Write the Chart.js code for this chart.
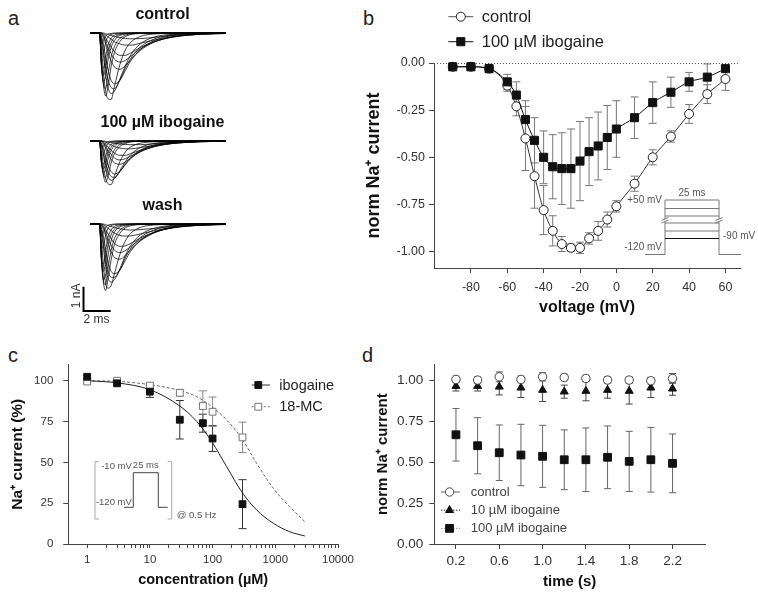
<!DOCTYPE html>
<html>
<head>
<meta charset="utf-8">
<title>Ibogaine and Na+ current</title>
<script src="https://cdn.jsdelivr.net/npm/chart.js@4.4.1/dist/chart.umd.min.js"></script>
<style>
  body { margin: 0; background: #fff; }
  #page { position: relative; width: 758px; height: 593px; overflow: hidden; font-family: "Liberation Sans", Arial, sans-serif; }
  #page canvas { position: absolute; }
  .panel { position: absolute; font-size: 20px; line-height: 20px; color: #222; }
</style>
</head>
<body>
<div id="page">
  <div class="panel" style="left:8px;top:8px">a</div>
  <div class="panel" style="left:363px;top:8px">b</div>
  <div class="panel" style="left:8px;top:345px">c</div>
  <div class="panel" style="left:362px;top:345px">d</div>
  <canvas id="traceControl" width="165" height="102" style="left:80px;top:0px"></canvas>
  <canvas id="traceIbogaine" width="165" height="102" style="left:80px;top:108px"></canvas>
  <canvas id="traceWash" width="180" height="139" style="left:65px;top:191px"></canvas>
  <canvas id="ivChart" width="398" height="320" style="left:360px;top:0px"></canvas>
  <canvas id="doseChart" width="380" height="273" style="left:0px;top:320px"></canvas>
  <canvas id="timeChart" width="388" height="273" style="left:370px;top:320px"></canvas>
</div>
<script>
// ---- panel a: Na+ current traces (nA), sampled at these times (ms) ----
const traceTimes = [0, 0.7, 0.85, 1.0, 1.15, 1.3, 1.55, 1.8, 2.2, 2.6, 3.0, 3.7, 4.7, 6.1, 8.1, 10];
const controlTraces = [
  [0, 0, -0.45, -0.3, -0.12, -0.05, -0.02, 0, 0, 0, 0, 0, 0, 0, 0, 0],
  [0, 0, -0.9, -0.8, -0.4, -0.18, -0.06, -0.02, 0, 0, 0, 0, 0, 0, 0, 0],
  [0, 0, -1.3, -1.45, -1.0, -0.55, -0.22, -0.09, -0.03, 0, 0, 0, 0, 0, 0, 0],
  [0, 0, -1.4, -1.75, -1.4, -0.85, -0.4, -0.18, -0.06, -0.02, 0, 0, 0, 0, 0, 0],
  [0, 0, -1.45, -2.0, -1.8, -1.2, -0.6, -0.3, -0.1, -0.04, -0.01, 0, 0, 0, 0, 0],
  [0, 0, -1.35, -2.15, -2.3, -1.8, -1.0, -0.55, -0.22, -0.09, -0.03, 0, 0, 0, 0, 0],
  [0, 0, -1.2, -2.2, -2.6, -2.3, -1.4, -0.8, -0.35, -0.15, -0.06, -0.02, 0, 0, 0, 0],
  [0, 0, -0.7, -1.7, -2.4, -2.7, -2.75, -2.2, -1.3, -0.7, -0.38, -0.14, -0.04, -0.01, 0, 0],
  [0, 0, -0.35, -1.0, -1.7, -2.2, -2.5, -2.4, -1.9, -1.35, -0.9, -0.45, -0.17, -0.05, -0.01, 0],
  [0, 0, -0.25, -0.75, -1.35, -1.85, -2.25, -2.3, -1.95, -1.45, -1.05, -0.58, -0.25, -0.07, -0.01, 0],
  [0, 0, -0.15, -0.5, -1.0, -1.45, -1.95, -2.1, -1.95, -1.55, -1.15, -0.68, -0.32, -0.1, -0.02, 0],
  [0, 0, -0.05, -0.2, -0.45, -0.75, -1.15, -1.4, -1.5, -1.35, -1.1, -0.72, -0.38, -0.15, -0.04, -0.01],
  [0, 0, -0.02, -0.13, -0.32, -0.55, -0.85, -1.08, -1.2, -1.13, -0.96, -0.66, -0.37, -0.16, -0.05, -0.01],
  [0, 0, 0, -0.08, -0.2, -0.35, -0.58, -0.78, -0.92, -0.92, -0.82, -0.6, -0.36, -0.17, -0.05, -0.02],
  [0, 0, 0, -0.03, -0.08, -0.15, -0.25, -0.36, -0.45, -0.5, -0.5, -0.42, -0.29, -0.15, -0.05, -0.02],
  [0, 0, 0, 0, -0.03, -0.06, -0.1, -0.14, -0.19, -0.22, -0.24, -0.23, -0.18, -0.1, -0.04, -0.01]
];
const ibogaineTraces = [
  [0, 0, -0.3, -0.2, -0.08, -0.03, -0.01, 0, 0, 0, 0, 0, 0, 0, 0, 0],
  [0, 0, -0.6, -0.55, -0.28, -0.12, -0.04, -0.01, 0, 0, 0, 0, 0, 0, 0, 0],
  [0, 0, -0.85, -0.95, -0.65, -0.36, -0.14, -0.06, -0.02, 0, 0, 0, 0, 0, 0, 0],
  [0, 0, -0.92, -1.15, -0.92, -0.55, -0.26, -0.12, -0.04, -0.01, 0, 0, 0, 0, 0, 0],
  [0, 0, -0.95, -1.3, -1.2, -0.8, -0.4, -0.2, -0.07, -0.03, -0.01, 0, 0, 0, 0, 0],
  [0, 0, -0.9, -1.4, -1.5, -1.17, -0.65, -0.36, -0.14, -0.06, -0.02, 0, 0, 0, 0, 0],
  [0, 0, -0.8, -1.45, -1.7, -1.5, -0.92, -0.52, -0.23, -0.1, -0.04, -0.01, 0, 0, 0, 0],
  [0, 0, -0.45, -1.1, -1.55, -1.75, -1.8, -1.45, -0.85, -0.45, -0.24, -0.09, -0.03, 0, 0, 0],
  [0, 0, -0.22, -0.65, -1.1, -1.42, -1.62, -1.56, -1.22, -0.85, -0.56, -0.27, -0.1, -0.03, 0, 0],
  [0, 0, -0.16, -0.49, -0.88, -1.2, -1.46, -1.5, -1.27, -0.94, -0.68, -0.38, -0.16, -0.05, -0.01, 0],
  [0, 0, -0.1, -0.32, -0.65, -0.95, -1.26, -1.36, -1.25, -0.98, -0.72, -0.42, -0.19, -0.06, -0.01, 0],
  [0, 0, -0.03, -0.13, -0.3, -0.5, -0.75, -0.9, -0.96, -0.86, -0.7, -0.45, -0.23, -0.09, -0.02, 0],
  [0, 0, -0.01, -0.08, -0.21, -0.36, -0.55, -0.7, -0.78, -0.73, -0.62, -0.43, -0.24, -0.1, -0.03, -0.01],
  [0, 0, 0, -0.05, -0.13, -0.23, -0.38, -0.5, -0.59, -0.59, -0.52, -0.38, -0.22, -0.1, -0.03, -0.01],
  [0, 0, 0, -0.02, -0.05, -0.1, -0.16, -0.23, -0.29, -0.32, -0.32, -0.27, -0.18, -0.09, -0.03, -0.01],
  [0, 0, 0, 0, -0.02, -0.04, -0.06, -0.09, -0.12, -0.14, -0.15, -0.15, -0.11, -0.06, -0.02, -0.01]
];
const washTraces = [
  [0, 0, -0.5, -0.32, -0.13, -0.05, -0.02, 0, 0, 0, 0, 0, 0, 0, 0, 0],
  [0, 0, -1.0, -0.9, -0.45, -0.2, -0.07, -0.02, 0, 0, 0, 0, 0, 0, 0, 0],
  [0, 0, -1.45, -1.65, -1.1, -0.6, -0.25, -0.1, -0.03, 0, 0, 0, 0, 0, 0, 0],
  [0, 0, -1.55, -1.95, -1.55, -0.95, -0.45, -0.2, -0.07, -0.02, 0, 0, 0, 0, 0, 0],
  [0, 0, -1.6, -2.3, -2.1, -1.4, -0.7, -0.33, -0.12, -0.05, -0.01, 0, 0, 0, 0, 0],
  [0, 0, -1.45, -2.4, -2.5, -1.9, -1.1, -0.6, -0.25, -0.1, -0.03, 0, 0, 0, 0, 0],
  [0, 0, -1.3, -2.45, -2.75, -2.35, -1.5, -0.85, -0.38, -0.16, -0.07, -0.02, 0, 0, 0, 0],
  [0, 0, -0.75, -1.8, -2.45, -2.65, -2.55, -2.05, -1.25, -0.7, -0.38, -0.14, -0.04, -0.01, 0, 0],
  [0, 0, -0.38, -1.05, -1.75, -2.2, -2.4, -2.3, -1.85, -1.3, -0.88, -0.45, -0.18, -0.05, -0.01, 0],
  [0, 0, -0.27, -0.8, -1.4, -1.85, -2.2, -2.2, -1.9, -1.4, -1.0, -0.56, -0.25, -0.07, -0.01, 0],
  [0, 0, -0.16, -0.55, -1.05, -1.5, -1.95, -2.05, -1.9, -1.5, -1.12, -0.68, -0.34, -0.11, -0.02, 0],
  [0, 0, -0.06, -0.22, -0.48, -0.78, -1.15, -1.38, -1.45, -1.3, -1.05, -0.7, -0.37, -0.14, -0.04, -0.01],
  [0, 0, -0.03, -0.15, -0.34, -0.57, -0.87, -1.08, -1.18, -1.1, -0.93, -0.64, -0.36, -0.15, -0.05, -0.01],
  [0, 0, 0, -0.09, -0.22, -0.37, -0.6, -0.8, -0.92, -0.9, -0.8, -0.58, -0.34, -0.16, -0.05, -0.02],
  [0, 0, 0, -0.03, -0.09, -0.16, -0.27, -0.38, -0.47, -0.5, -0.49, -0.41, -0.28, -0.14, -0.05, -0.02],
  [0, 0, 0, 0, -0.03, -0.06, -0.1, -0.15, -0.2, -0.23, -0.25, -0.23, -0.18, -0.1, -0.04, -0.01]
];
const scaleBarMs = 2;
const scaleBarNA = 1;

// ---- panel b: current-voltage relation ----
const voltageB = [-90, -80, -70, -60, -55, -50, -45, -40, -35, -30, -25, -20, -15, -10, -5, 0, 10, 20, 30, 40, 50, 60];
const controlB = [-0.02, -0.02, -0.03, -0.12, -0.23, -0.40, -0.60, -0.78, -0.89, -0.96, -0.98, -0.98, -0.93, -0.89, -0.83, -0.76, -0.64, -0.50, -0.39, -0.27, -0.165, -0.085];
const controlBErr = [0.01, 0.01, 0.01, 0.03, 0.05, 0.17, 0.17, 0.13, 0.08, 0.04, 0.02, 0.03, 0.03, 0.05, 0.04, 0.03, 0.04, 0.04, 0.03, 0.05, 0.05, 0.06];
const ibogaineB = [-0.02, -0.02, -0.03, -0.10, -0.17, -0.30, -0.41, -0.50, -0.55, -0.56, -0.56, -0.52, -0.47, -0.44, -0.395, -0.35, -0.29, -0.21, -0.155, -0.10, -0.075, -0.03];
const ibogaineBErr = [0.01, 0.01, 0.02, 0.04, 0.07, 0.10, 0.12, 0.14, 0.17, 0.19, 0.21, 0.21, 0.18, 0.18, 0.17, 0.15, 0.11, 0.11, 0.08, 0.05, 0.07, 0.01];
const voltageTicksB = [-80, -60, -40, -20, 0, 20, 40, 60];
const currentTicksB = [0, -0.25, -0.5, -0.75, -1];

// ---- panel c: concentration-response ----
const concC = [1, 3, 10, 30, 70, 100, 300];
const ibogaineC = [102.4, 98.4, 93.3, 76.1, 74, 64.6, 24.4];
const ibogaineCErr = [1, 1, 3.5, 11.8, 5.5, 7.9, 15];
const mcC = [99.5, 100, 97, 92.6, 84.5, 81, 65.3];
const mcCErr = [1, 1, 1.5, 2, 9.3, 9, 9.3];
const fitConcC = [1, 3, 10, 30, 56, 97, 168, 291, 505, 930, 1700, 2960];
const ibogaineFitC = [100, 98.7, 94.5, 84.5, 75, 62.7, 47.3, 32, 20.8, 12.7, 7.5, 4.9];
const mcFitC = [100, 99.6, 97.6, 94, 90.2, 84.1, 75.9, 64.7, 49.4, 34.1, 22.8, 13.7];
const concTicksC = [1, 10, 100, 1000, 10000];
const percentTicksC = [0, 25, 50, 75, 100];

// ---- panel d: current during the pulse train ----
const timeD = [0.2, 0.4, 0.6, 0.8, 1.0, 1.2, 1.4, 1.6, 1.8, 2.0, 2.2];
const controlD = [1.008, 1.004, 1.024, 1.008, 1.024, 1.02, 1.014, 1.004, 1.004, 1.0, 1.014];
const controlDErr = [0.02, 0.02, 0.03, 0.02, 0.025, 0.02, 0.02, 0.02, 0.02, 0.02, 0.03];
const ibo10D = [0.967, 0.967, 0.963, 0.957, 0.943, 0.933, 0.937, 0.943, 0.937, 0.957, 0.951];
const ibo10DErr = [0.03, 0.03, 0.05, 0.06, 0.07, 0.04, 0.06, 0.05, 0.08, 0.06, 0.04];
const ibo100D = [0.669, 0.602, 0.559, 0.545, 0.537, 0.516, 0.516, 0.531, 0.506, 0.516, 0.494];
const ibo100DErr = [0.161, 0.172, 0.17, 0.188, 0.19, 0.183, 0.195, 0.192, 0.184, 0.198, 0.18];
const timeTicksD = [0.2, 0.6, 1.0, 1.4, 1.8, 2.2];
const currentTicksD = [0, 0.25, 0.5, 0.75, 1];

const FONT = '"Liberation Sans", Arial, sans-serif';
const AXIS = '#444';
Chart.defaults.font.family = FONT;
Chart.defaults.color = '#333';

const pts = (xs, ys) => xs.map((x, i) => ({x: x, y: ys[i]}));
const font = (size, weight) => ({family: FONT, size: size, weight: weight || 'normal'});
const axisGrid = {display: true, drawOnChartArea: false, drawTicks: true, tickLength: 5, color: AXIS};
const axisBorder = {display: true, color: AXIS, width: 1};

function drawMarker(ctx, style, x, y, r, fill, stroke) {
    ctx.beginPath();
    if (style === 'rect') {
        const s = Math.SQRT1_2 * r;
        ctx.rect(x - s, y - s, 2 * s, 2 * s);
    } else if (style === 'triangle') {
        for (let k = 0; k < 3; k++) {
            const a = k * 2 * Math.PI / 3;
            const px = x + Math.sin(a) * r, py = y - Math.cos(a) * r;
            if (k === 0) ctx.moveTo(px, py); else ctx.lineTo(px, py);
        }
        ctx.closePath();
    } else {
        ctx.arc(x, y, r, 0, 2 * Math.PI);
    }
    ctx.fillStyle = fill;
    ctx.fill();
    ctx.strokeStyle = stroke;
    ctx.lineWidth = 1;
    ctx.stroke();
}

// vertical error bars taken from dataset.errors
const errorBarPlugin = {
    id: 'errorBars',
    beforeDatasetsDraw(chart) {
        const ctx = chart.ctx;
        const yScale = chart.scales.y;
        chart.data.datasets.forEach((ds, i) => {
            if (!ds.errors) return;
            const meta = chart.getDatasetMeta(i);
            const cap = ds.errorCap || 4;
            ctx.save();
            ctx.strokeStyle = ds.errorColor || '#666';
            ctx.lineWidth = 1;
            meta.data.forEach((pt, j) => {
                const v = ds.data[j].y, e = ds.errors[j];
                const top = yScale.getPixelForValue(v + e);
                const bot = yScale.getPixelForValue(v - e);
                ctx.beginPath();
                ctx.moveTo(pt.x, top);
                ctx.lineTo(pt.x, bot);
                ctx.moveTo(pt.x - cap, top);
                ctx.lineTo(pt.x + cap, top);
                ctx.moveTo(pt.x - cap, bot);
                ctx.lineTo(pt.x + cap, bot);
                ctx.stroke();
            });
            ctx.restore();
        });
    }
};

// hand placed key with a line through each marker
const keyPlugin = {
    id: 'key',
    afterDraw(chart, args, opts) {
        if (!opts.items) return;
        const ctx = chart.ctx;
        opts.items.forEach((it, k) => {
            const ds = chart.data.datasets[it.ds];
            const y = opts.y + k * opts.rowGap;
            ctx.save();
            ctx.strokeStyle = it.line;
            ctx.lineWidth = 1;
            ctx.setLineDash(it.dash || []);
            ctx.beginPath();
            ctx.moveTo(opts.x, y);
            ctx.lineTo(opts.x + opts.lineLen, y);
            ctx.stroke();
            ctx.setLineDash([]);
            drawMarker(ctx, ds.pointStyle, opts.x + opts.lineLen * opts.markerAt, y, ds.pointRadius,
                ds.pointBackgroundColor, ds.pointBorderColor);
            ctx.fillStyle = opts.color;
            ctx.font = opts.fontSize + 'px ' + FONT;
            ctx.textAlign = 'left';
            ctx.textBaseline = 'middle';
            ctx.fillText(ds.label, opts.x + opts.lineLen + opts.gap, y + 0.5);
            ctx.restore();
        });
    }
};

const zeroLinePlugin = {
    id: 'zeroLine',
    beforeDatasetsDraw(chart) {
        const {ctx, chartArea} = chart;
        const y = Math.round(chart.scales.y.getPixelForValue(0)) + 0.5;
        ctx.save();
        ctx.strokeStyle = '#555';
        ctx.lineWidth = 1;
        ctx.setLineDash([1, 2]);
        ctx.beginPath();
        ctx.moveTo(chartArea.left, y);
        ctx.lineTo(chartArea.right, y);
        ctx.stroke();
        ctx.restore();
    }
};

function smallText(ctx, text, x, y, align) {
    ctx.textAlign = align;
    ctx.fillText(text, x, y);
}

// voltage step protocol drawn inside panel b
const ivInsetPlugin = {
    id: 'ivInset',
    afterDraw(chart) {
        const {ctx, chartArea} = chart;
        const base = chartArea.bottom - 13.5;
        const top = chartArea.bottom - 68;
        const x1 = chartArea.right - 75;
        const x2 = chartArea.right - 21;
        const steps = [59.5, 52, 45, 37, 29.5];
        ctx.save();
        ctx.lineWidth = 1;
        ctx.strokeStyle = '#777';
        ctx.beginPath();
        ctx.moveTo(x1 - 20, base);
        ctx.lineTo(x1, base);
        ctx.lineTo(x1, top);
        ctx.lineTo(x2, top);
        ctx.lineTo(x2, base);
        ctx.lineTo(x2 + 22, base);
        steps.slice(0, 4).forEach(s => {
            ctx.moveTo(x1, chartArea.bottom - s);
            ctx.lineTo(x2, chartArea.bottom - s);
        });
        ctx.stroke();
        ctx.strokeStyle = '#111';
        ctx.beginPath();
        ctx.moveTo(x1, chartArea.bottom - steps[4]);
        ctx.lineTo(x2, chartArea.bottom - steps[4]);
        ctx.stroke();
        // breaks on the verticals
        const yb = chartArea.bottom - 48;
        [x1, x2].forEach(x => {
            ctx.fillStyle = '#fff';
            ctx.fillRect(x - 1, yb - 1, 3, 3);
            ctx.strokeStyle = '#777';
            ctx.beginPath();
            ctx.moveTo(x - 3.5, yb + 0.5);
            ctx.lineTo(x + 3.5, yb - 2.5);
            ctx.moveTo(x - 3.5, yb + 3);
            ctx.lineTo(x + 3.5, yb);
            ctx.stroke();
        });
        ctx.fillStyle = '#555';
        ctx.font = '10px ' + FONT;
        ctx.textBaseline = 'middle';
        smallText(ctx, '+50 mV', x1 - 3, top, 'right');
        smallText(ctx, '25 ms', (x1 + x2) / 2, top - 7, 'center');
        smallText(ctx, '-90 mV', x2 + 4, chartArea.bottom - 32, 'left');
        smallText(ctx, '-120 mV', x1 - 3, base - 7, 'right');
        ctx.restore();
    }
};

// single pulse protocol drawn inside panel c
const doseInsetPlugin = {
    id: 'doseInset',
    afterDraw(chart) {
        const {ctx, chartArea} = chart;
        const L = chartArea.left, T = chartArea.top;
        const bl = L + 26.7, br = L + 103.4, bt = T + 97.3, bb = T + 154.6;
        const base = T + 142.9, high = T + 108.3;
        const p0 = L + 55.7, p1 = L + 65, p2 = L + 90, p3 = L + 99.4;
        ctx.save();
        ctx.lineWidth = 1;
        ctx.strokeStyle = '#aaa';
        ctx.beginPath();
        ctx.moveTo(bl + 4, bt); ctx.lineTo(bl, bt); ctx.lineTo(bl, bb); ctx.lineTo(bl + 4, bb);
        ctx.moveTo(br - 4, bt); ctx.lineTo(br, bt); ctx.lineTo(br, bb); ctx.lineTo(br - 4, bb);
        ctx.stroke();
        ctx.strokeStyle = '#444';
        ctx.beginPath();
        ctx.moveTo(p0, base); ctx.lineTo(p1, base); ctx.lineTo(p1, high);
        ctx.lineTo(p2, high); ctx.lineTo(p2, base); ctx.lineTo(p3, base);
        ctx.stroke();
        ctx.fillStyle = '#555';
        ctx.font = '9.5px ' + FONT;
        ctx.textBaseline = 'middle';
        smallText(ctx, '-10 mV', p1 - 1.5, high - 6.5, 'right');
        smallText(ctx, '25 ms', (p1 + p2) / 2, high - 7, 'center');
        smallText(ctx, '-120 mV', p1 - 1.5, base - 4.5, 'right');
        smallText(ctx, '@ 0.5 Hz', br + 5, bb - 4, 'left');
        ctx.restore();
    }
};

// 2 ms / 1 nA calibration bar under the wash traces
const scaleBarPlugin = {
    id: 'scaleBar',
    afterDraw(chart) {
        const {ctx, chartArea} = chart;
        const xs = chart.scales.x, ys = chart.scales.y;
        const w = xs.getPixelForValue(scaleBarMs) - xs.getPixelForValue(0);
        const h = ys.getPixelForValue(-scaleBarNA) - ys.getPixelForValue(0);
        const x0 = chartArea.left + 3.5, y0 = chartArea.bottom + 18;
        ctx.save();
        ctx.strokeStyle = '#000';
        ctx.lineWidth = 2;
        ctx.beginPath();
        ctx.moveTo(x0, y0 - h);
        ctx.lineTo(x0, y0);
        ctx.lineTo(x0 + w, y0);
        ctx.stroke();
        ctx.fillStyle = '#333';
        ctx.font = '12px ' + FONT;
        ctx.textAlign = 'left';
        ctx.textBaseline = 'top';
        ctx.fillText(scaleBarMs + ' ms', x0, y0 + 3);
        ctx.translate(x0 - 4, y0 - h / 2 - 3);
        ctx.rotate(-Math.PI / 2);
        ctx.textAlign = 'center';
        ctx.textBaseline = 'alphabetic';
        ctx.fillText(scaleBarNA + ' nA', 0, 0);
        ctx.restore();
    }
};

function traceChart(id, title, traces, padding, plugins) {
    return new Chart(document.getElementById(id), {
        type: 'scatter',
        data: {
            datasets: traces.map(tr => ({
                data: pts(traceTimes, tr),
                showLine: true,
                borderColor: '#000',
                borderWidth: 0.75,
                pointRadius: 0,
                cubicInterpolationMode: 'monotone'
            }))
        },
        options: {
            responsive: false,
            animation: false,
            layout: {padding: padding},
            scales: {
                x: {type: 'linear', display: false, min: -0.735, max: 11.4},
                y: {display: false, min: -2.85, max: 0.2}
            },
            plugins: {
                legend: {display: false},
                tooltip: {enabled: false},
                title: {display: true, text: title, color: '#111', font: font(16, 'bold'), padding: {top: 5, bottom: 4}}
            }
        },
        plugins: plugins
    });
}

traceChart('traceControl', 'control', controlTraces, 0, []);
traceChart('traceIbogaine', '100 µM ibogaine', ibogaineTraces, 0, []);
traceChart('traceWash', 'wash', washTraces, {left: 15, bottom: 37}, [scaleBarPlugin]);

// panel b
new Chart(document.getElementById('ivChart'), {
    type: 'scatter',
    data: {
        datasets: [{
            label: '100 µM ibogaine',
            data: pts(voltageB, ibogaineB),
            errors: ibogaineBErr,
            errorColor: '#777',
            order: 0,
            showLine: true,
            borderColor: '#111',
            borderWidth: 1,
            cubicInterpolationMode: 'monotone',
            pointStyle: 'rect',
            pointRadius: 5.7,
            pointBackgroundColor: '#111',
            pointBorderColor: '#111',
            clip: false
        }, {
            label: 'control',
            data: pts(voltageB, controlB),
            errors: controlBErr,
            errorColor: '#777',
            order: 1,
            showLine: true,
            borderColor: '#333',
            borderWidth: 1,
            cubicInterpolationMode: 'monotone',
            pointStyle: 'circle',
            pointRadius: 4.5,
            pointBackgroundColor: '#fff',
            pointBorderColor: '#222',
            clip: false
        }]
    },
    options: {
        responsive: false,
        animation: false,
        layout: {padding: {left: 0, right: 18, top: 63, bottom: 0}},
        scales: {
            x: {
                type: 'linear', min: -100.3, max: 68,
                afterFit: s => { s.height = 52; },
                afterBuildTicks: s => { s.ticks = voltageTicksB.map(v => ({value: v})); },
                ticks: {font: font(12.5), color: '#333', padding: 7, callback: v => String(v)},
                grid: axisGrid, border: axisBorder,
                title: {display: true, text: 'voltage (mV)', color: '#111', font: font(16, 'bold'), padding: {top: 0, bottom: 2.4}}
            },
            y: {
                min: -1.087, max: 0,
                afterFit: s => { s.width = 74; },
                afterBuildTicks: s => { s.ticks = currentTicksB.map(v => ({value: v})); },
                ticks: {font: font(12.5), color: '#333', padding: 4, callback: v => v.toFixed(2)},
                grid: axisGrid, border: axisBorder,
                title: {display: true, text: 'norm Na⁺ current', color: '#111', font: font(18, 'bold'), padding: {top: 3.2, bottom: 0}}
            }
        },
        plugins: {
            legend: {display: false},
            tooltip: {enabled: false},
            key: {x: 88.3, y: 16.7, rowGap: 25, lineLen: 25, markerAt: 0.5, gap: 8.4, fontSize: 16.5, color: '#222',
                items: [{ds: 1, line: '#555'}, {ds: 0, line: '#111'}]}
        }
    },
    plugins: [zeroLinePlugin, errorBarPlugin, keyPlugin, ivInsetPlugin]
});

// panel c
const minorTicksC = [];
concTicksC.slice(0, -1).forEach(d => { for (let m = 1; m < 10; m++) minorTicksC.push(m * d); });
minorTicksC.push(concTicksC[concTicksC.length - 1]);

new Chart(document.getElementById('doseChart'), {
    type: 'scatter',
    data: {
        datasets: [{
            label: 'ibogaine',
            data: pts(concC, ibogaineC),
            errors: ibogaineCErr,
            errorColor: '#333',
            pointStyle: 'rect',
            pointRadius: 4.8,
            pointBackgroundColor: '#111',
            pointBorderColor: '#111',
            clip: false
        }, {
            label: '18-MC',
            data: pts(concC, mcC),
            errors: mcCErr,
            errorColor: '#888',
            pointStyle: 'rect',
            pointRadius: 4.8,
            pointBackgroundColor: '#fff',
            pointBorderColor: '#777',
            clip: false
        }, {
            label: 'ibogaine fit',
            data: pts(fitConcC, ibogaineFitC),
            showLine: true,
            borderColor: '#222',
            borderWidth: 1,
            pointRadius: 0,
            cubicInterpolationMode: 'monotone'
        }, {
            label: '18-MC fit',
            data: pts(fitConcC, mcFitC),
            showLine: true,
            borderColor: '#666',
            borderWidth: 1,
            borderDash: [3, 2],
            pointRadius: 0,
            cubicInterpolationMode: 'monotone'
        }]
    },
    options: {
        responsive: false,
        animation: false,
        layout: {padding: {left: 0, right: 42, top: 44.4, bottom: 0}},
        scales: {
            x: {
                type: 'logarithmic', min: 0.5, max: 10000,
                afterFit: s => { s.height = 49; },
                afterBuildTicks: s => { s.ticks = minorTicksC.map(v => ({value: v})); },
                ticks: {font: font(11.5), color: '#333', padding: 5, autoSkip: false, maxRotation: 0,
                    callback: v => concTicksC.includes(v) ? String(v) : ''},
                grid: Object.assign({}, axisGrid, {tickLength: 4}), border: axisBorder,
                title: {display: true, text: 'concentration (µM)', color: '#111', font: font(14.5, 'bold'), padding: {top: 0, bottom: 4.3}}
            },
            y: {
                min: 0, max: 110,
                afterFit: s => { s.width = 68.3; },
                afterBuildTicks: s => { s.ticks = percentTicksC.map(v => ({value: v})); },
                ticks: {font: font(11.5), color: '#333', padding: 10, callback: v => String(v)},
                grid: axisGrid, border: axisBorder,
                title: {display: true, text: 'Na⁺ current (%)', color: '#111', font: font(15.5, 'bold'), padding: {top: 8.7, bottom: 0}}
            }
        },
        plugins: {
            legend: {display: false},
            tooltip: {enabled: false},
            key: {x: 251.7, y: 65, rowGap: 21.7, lineLen: 18.3, markerAt: 0.36, gap: 9.3, fontSize: 14.5, color: '#222',
                items: [{ds: 0, line: '#333'}, {ds: 1, line: '#777', dash: [2, 2]}]}
        }
    },
    plugins: [errorBarPlugin, keyPlugin, doseInsetPlugin]
});

// panel d
new Chart(document.getElementById('timeChart'), {
    type: 'scatter',
    data: {
        datasets: [{
            label: 'control',
            data: pts(timeD, controlD),
            errors: controlDErr,
            errorColor: '#555',
            errorCap: 3.5,
            pointStyle: 'circle',
            pointRadius: 4.2,
            pointBackgroundColor: '#fff',
            pointBorderColor: '#444',
            clip: false
        }, {
            label: '10 µM ibogaine',
            data: pts(timeD, ibo10D),
            errors: ibo10DErr,
            errorColor: '#444',
            errorCap: 3.5,
            pointStyle: 'triangle',
            pointRadius: 4.6,
            pointBackgroundColor: '#111',
            pointBorderColor: '#111',
            clip: false
        }, {
            label: '100 µM ibogaine',
            data: pts(timeD, ibo100D),
            errors: ibo100DErr,
            errorColor: '#666',
            errorCap: 3.5,
            pointStyle: 'rect',
            pointRadius: 5.5,
            pointBackgroundColor: '#111',
            pointBorderColor: '#111',
            clip: false
        }]
    },
    options: {
        responsive: false,
        animation: false,
        layout: {padding: {left: 0, right: 53, top: 44.4, bottom: 0}},
        scales: {
            x: {
                type: 'linear', min: 0, max: 2.5,
                afterFit: s => { s.height = 49; },
                afterBuildTicks: s => { s.ticks = timeTicksD.map(v => ({value: v})); },
                ticks: {font: font(13.5), color: '#333', padding: 4, callback: v => v.toFixed(1)},
                grid: axisGrid, border: axisBorder,
                title: {display: true, text: 'time (s)', color: '#111', font: font(15, 'bold'), padding: {top: 0, bottom: 2}}
            },
            y: {
                min: 0, max: 1.1,
                afterFit: s => { s.width = 64.3; },
                afterBuildTicks: s => { s.ticks = currentTicksD.map(v => ({value: v})); },
                ticks: {font: font(13.5), color: '#333', padding: 6, callback: v => v.toFixed(2)},
                grid: axisGrid, border: axisBorder,
                title: {display: true, text: 'norm Na⁺ current', color: '#111', font: font(15, 'bold'), padding: {top: 3.5, bottom: 0}}
            }
        },
        plugins: {
            legend: {display: false},
            tooltip: {enabled: false},
            key: {x: 71, y: 172, rowGap: 18.2, lineLen: 19, markerAt: 0.45, gap: 10.7, fontSize: 13, color: '#444',
                items: [{ds: 0, line: '#666'}, {ds: 1, line: '#333', dash: [1.5, 1.5]}, {ds: 2, line: '#999', dash: [1.5, 1.5]}]}
        }
    },
    plugins: [errorBarPlugin, keyPlugin]
});
</script>
</body>
</html>
